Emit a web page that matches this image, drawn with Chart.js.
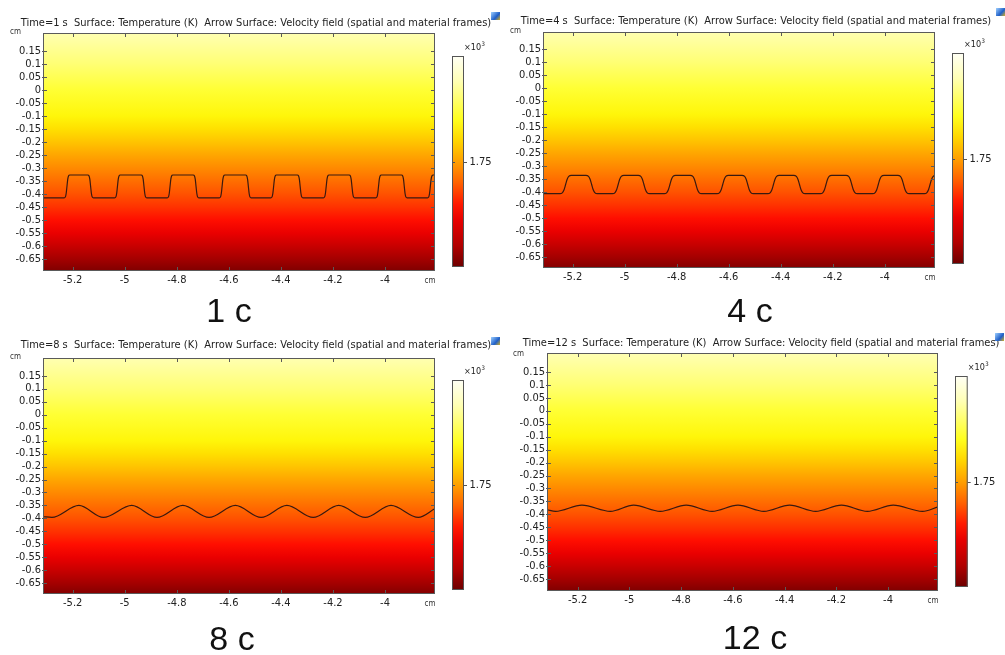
<!DOCTYPE html>
<html>
<head>
<meta charset="utf-8">
<script src="https://cdn.jsdelivr.net/npm/chart.js@4.4.1/dist/chart.umd.min.js"></script>
<style>
  html, body { margin: 0; padding: 0; background: #fff; width: 1005px; height: 655px; overflow: hidden; }
  canvas { position: absolute; }
</style>
</head>
<body>
<canvas id="c0"></canvas>
<canvas id="c1"></canvas>
<canvas id="c2"></canvas>
<canvas id="c3"></canvas>
<script>
// tick values (cm)
const xTicks = [-5.2, -5, -4.8, -4.6, -4.4, -4.2, -4];
const yTicks = [0.15, 0.1, 0.05, 0, -0.05, -0.1, -0.15, -0.2, -0.25, -0.3, -0.35, -0.4, -0.45, -0.5, -0.55, -0.6, -0.65];
const colorbarTicks = [1.75];
const times = ['1 s', '4 s', '8 s', '12 s'];
const captions = ['1 c', '4 c', '8 c', '12 c'];

// interface line at t = 1 s (square ridges with small rounded corners)
const front1X = [-5.314,
  -5.233, -5.228, -5.225, -5.222, -5.219, -5.216, -5.211,
  -5.142, -5.137, -5.134, -5.131, -5.128, -5.125, -5.120,
  -5.039, -5.034, -5.031, -5.028, -5.025, -5.022, -5.017,
  -4.937, -4.932, -4.929, -4.926, -4.923, -4.920, -4.915,
  -4.837, -4.832, -4.829, -4.826, -4.823, -4.820, -4.815,
  -4.737, -4.732, -4.729, -4.726, -4.723, -4.720, -4.715,
  -4.637, -4.632, -4.629, -4.626, -4.623, -4.620, -4.615,
  -4.536, -4.531, -4.528, -4.525, -4.522, -4.519, -4.514,
  -4.439, -4.434, -4.431, -4.428, -4.425, -4.422, -4.417,
  -4.337, -4.332, -4.329, -4.326, -4.323, -4.320, -4.315,
  -4.237, -4.232, -4.229, -4.226, -4.223, -4.220, -4.215,
  -4.138, -4.133, -4.130, -4.127, -4.124, -4.121, -4.116,
  -4.036, -4.031, -4.028, -4.025, -4.022, -4.019, -4.014,
  -3.937, -3.932, -3.929, -3.926, -3.923, -3.920, -3.915,
  -3.837, -3.832, -3.829, -3.826, -3.823, -3.820, -3.815,
  -3.806];
const front1Y = [-0.415,
  -0.415, -0.411, -0.398, -0.371, -0.344, -0.331, -0.327,
  -0.327, -0.331, -0.344, -0.371, -0.398, -0.411, -0.415,
  -0.415, -0.411, -0.398, -0.371, -0.344, -0.331, -0.327,
  -0.327, -0.331, -0.344, -0.371, -0.398, -0.411, -0.415,
  -0.415, -0.411, -0.398, -0.371, -0.344, -0.331, -0.327,
  -0.327, -0.331, -0.344, -0.371, -0.398, -0.411, -0.415,
  -0.415, -0.411, -0.398, -0.371, -0.344, -0.331, -0.327,
  -0.327, -0.331, -0.344, -0.371, -0.398, -0.411, -0.415,
  -0.415, -0.411, -0.398, -0.371, -0.344, -0.331, -0.327,
  -0.327, -0.331, -0.344, -0.371, -0.398, -0.411, -0.415,
  -0.415, -0.411, -0.398, -0.371, -0.344, -0.331, -0.327,
  -0.327, -0.331, -0.344, -0.371, -0.398, -0.411, -0.415,
  -0.415, -0.411, -0.398, -0.371, -0.344, -0.331, -0.327,
  -0.327, -0.331, -0.344, -0.371, -0.398, -0.411, -0.415,
  -0.415, -0.411, -0.398, -0.371, -0.344, -0.331, -0.327,
  -0.327];

// t = 4 s (ridges with rounder shoulders)
const front2X = [-5.314,
  -5.249, -5.239, -5.233, -5.227, -5.221, -5.215, -5.205,
  -5.149, -5.139, -5.133, -5.127, -5.121, -5.115, -5.105,
  -5.047, -5.037, -5.031, -5.025, -5.019, -5.013, -5.003,
  -4.948, -4.938, -4.932, -4.926, -4.920, -4.914, -4.904,
  -4.848, -4.838, -4.832, -4.826, -4.820, -4.814, -4.804,
  -4.748, -4.738, -4.732, -4.726, -4.720, -4.714, -4.704,
  -4.645, -4.635, -4.629, -4.623, -4.617, -4.611, -4.601,
  -4.549, -4.539, -4.533, -4.527, -4.521, -4.515, -4.505,
  -4.450, -4.440, -4.434, -4.428, -4.422, -4.416, -4.406,
  -4.350, -4.340, -4.334, -4.328, -4.322, -4.316, -4.306,
  -4.248, -4.238, -4.232, -4.226, -4.220, -4.214, -4.204,
  -4.149, -4.139, -4.133, -4.127, -4.121, -4.115, -4.105,
  -4.047, -4.037, -4.031, -4.025, -4.019, -4.013, -4.003,
  -3.950, -3.940, -3.934, -3.928, -3.922, -3.916, -3.906,
  -3.848, -3.838, -3.832, -3.826, -3.820, -3.814, -3.804];
const front2Y = [-0.405,
  -0.405, -0.401, -0.39, -0.37, -0.35, -0.339, -0.335,
  -0.335, -0.339, -0.35, -0.37, -0.39, -0.401, -0.405,
  -0.405, -0.401, -0.39, -0.37, -0.35, -0.339, -0.335,
  -0.335, -0.339, -0.35, -0.37, -0.39, -0.401, -0.405,
  -0.405, -0.401, -0.39, -0.37, -0.35, -0.339, -0.335,
  -0.335, -0.339, -0.35, -0.37, -0.39, -0.401, -0.405,
  -0.405, -0.401, -0.39, -0.37, -0.35, -0.339, -0.335,
  -0.335, -0.339, -0.35, -0.37, -0.39, -0.401, -0.405,
  -0.405, -0.401, -0.39, -0.37, -0.35, -0.339, -0.335,
  -0.335, -0.339, -0.35, -0.37, -0.39, -0.401, -0.405,
  -0.405, -0.401, -0.39, -0.37, -0.35, -0.339, -0.335,
  -0.335, -0.339, -0.35, -0.37, -0.39, -0.401, -0.405,
  -0.405, -0.401, -0.39, -0.37, -0.35, -0.339, -0.335,
  -0.335, -0.339, -0.35, -0.37, -0.39, -0.401, -0.405,
  -0.405, -0.401, -0.39, -0.37, -0.35, -0.339, -0.335];

// t = 8 s (waves), crests and troughs
const front3X = [-5.314, -5.28, -5.176, -5.082, -4.973, -4.876, -4.777, -4.676, -4.575, -4.476, -4.377, -4.276, -4.178, -4.076, -3.977, -3.872, -3.808];
const front3Y = [-0.393, -0.396, -0.35, -0.396, -0.35, -0.396, -0.35, -0.396, -0.35, -0.396, -0.35, -0.396, -0.35, -0.396, -0.35, -0.396, -0.362];

// t = 12 s (flatter waves)
const front4X = [-5.318, -5.285, -5.183, -5.073, -4.983, -4.88, -4.78, -4.68, -4.58, -4.48, -4.38, -4.28, -4.18, -4.08, -3.98, -3.867, -3.807];
const front4Y = [-0.382, -0.388, -0.364, -0.388, -0.364, -0.388, -0.364, -0.388, -0.364, -0.388, -0.364, -0.388, -0.364, -0.388, -0.364, -0.388, -0.371];

const fronts = [[front1X, front1Y], [front2X, front2Y], [front3X, front3Y], [front4X, front4Y]];

// panel placement (page px) and axis ranges
const layout = [
  { left: 0, top: 0, w: 500, h: 327, area: [43, 33, 435, 271], xr: [-5.314, -3.808], yr: [-0.696, 0.219],
    cb: [452, 56, 12, 211], title: [20.7, 26, 471], icon: [491, 12], cap: [229, 322], cm: [10, 34] },
  { left: 500, top: 0, w: 505, h: 327, area: [43, 32, 435, 268], xr: [-5.314, -3.807], yr: [-0.691, 0.2165],
    cb: [452, 53, 12, 211], title: [20.7, 24, 471], icon: [496, 8], cap: [250, 322], cm: [10, 33] },
  { left: 0, top: 327, w: 500, h: 328, area: [43, 31, 435, 267], xr: [-5.314, -3.808], yr: [-0.691, 0.218],
    cb: [452, 53, 12, 210], title: [20.7, 21.3, 471], icon: [491, 10], cap: [232, 323], cm: [10, 32] },
  { left: 500, top: 327, w: 505, h: 328, area: [47, 26, 438, 264], xr: [-5.318, -3.807], yr: [-0.695, 0.222],
    cb: [455, 49, 12.7, 211], title: [22.7, 19, 477], icon: [495, 6], cap: [255, 322], cm: [13, 29] }
];

const FONT = '"DejaVu Sans Condensed", "DejaVu Sans", sans-serif';

// temperature colouring of the domain, by height (cm)
const fieldStops = [
  [0.23, '#ffffb8'], [0.1, '#ffff74'], [0.0, '#ffff34'], [-0.1, '#fff60a'], [-0.15, '#ffe000'],
  [-0.2, '#ffc400'], [-0.25, '#ffa600'], [-0.3, '#ff8a00'], [-0.35, '#ff6e00'], [-0.4, '#ff5200'],
  [-0.45, '#ff3200'], [-0.5, '#ff0e00'], [-0.55, '#ea0000'], [-0.6, '#c80000'], [-0.65, '#a40000'], [-0.7, '#7c0000']
];
const barStops = [
  [0, '#fffff6'], [0.12, '#ffffb4'], [0.3, '#ffff1e'], [0.4, '#ffd600'], [0.5, '#ffa000'],
  [0.6, '#ff6200'], [0.7, '#ff1a00'], [0.78, '#e60000'], [0.9, '#b00000'], [1, '#6c0000']
];

const fmt = v => String(parseFloat(Number(v).toFixed(2)));

const fieldPlugin = {
  id: 'field',
  beforeDatasetsDraw(chart) {
    const { ctx, chartArea: a, scales: { y } } = chart;
    const top = fieldStops[0][0], bot = fieldStops[fieldStops.length - 1][0];
    const g = ctx.createLinearGradient(0, y.getPixelForValue(top), 0, y.getPixelForValue(bot));
    fieldStops.forEach(([v, c]) => g.addColorStop((top - v) / (top - bot), c));
    ctx.save();
    ctx.fillStyle = g;
    ctx.fillRect(a.left, a.top, a.right - a.left, a.bottom - a.top);
    ctx.restore();
  }
};

const decoPlugin = {
  id: 'deco',
  afterDraw(chart) {
    const p = chart.options.plugins.deco;
    const { ctx, chartArea: a, scales: { x, y } } = chart;
    ctx.save();
    // frame + inward ticks
    ctx.strokeStyle = '#5a5a5a';
    ctx.lineWidth = 1;
    ctx.strokeRect(a.left + 0.5, a.top + 0.5, a.right - a.left - 1, a.bottom - a.top - 1);
    ctx.beginPath();
    xTicks.forEach(v => {
      const px = Math.round(x.getPixelForValue(v)) + 0.5;
      ctx.moveTo(px, a.top); ctx.lineTo(px, a.top + 4);
      ctx.moveTo(px, a.bottom); ctx.lineTo(px, a.bottom - 4);
    });
    yTicks.forEach(v => {
      const py = Math.round(y.getPixelForValue(v)) + 0.5;
      ctx.moveTo(a.left - 1, py); ctx.lineTo(a.left + 4, py);
      ctx.moveTo(a.right, py); ctx.lineTo(a.right - 4, py);
    });
    ctx.stroke();

    // title
    ctx.fillStyle = '#222';
    ctx.font = '11px ' + FONT;
    ctx.textAlign = 'left';
    ctx.textBaseline = 'alphabetic';
    const t = 'Time=' + times[p.i] + '  Surface: Temperature (K)  Arrow Surface: Velocity field (spatial and material frames)';
    ctx.fillText(t, p.title[0], p.title[1], p.title[2]);

    // small icon at the end of the title
    const ig = ctx.createLinearGradient(p.icon[0], p.icon[1], p.icon[0] + 9, p.icon[1] + 8);
    ig.addColorStop(0, '#9fd0ff'); ig.addColorStop(0.6, '#1f5fc8'); ig.addColorStop(1, '#d9b020');
    ctx.fillStyle = ig;
    ctx.fillRect(p.icon[0], p.icon[1], 9, 8);

    // unit labels
    ctx.fillStyle = '#333';
    ctx.font = '8px ' + FONT;
    ctx.fillText('cm', p.cm[0], p.cm[1]);
    ctx.textAlign = 'center';
    ctx.textBaseline = 'middle';
    ctx.fillText('cm', a.right - 5, a.bottom + 10);

    // colour legend
    const [cx, cy, cw, ch] = p.cb;
    const bg = ctx.createLinearGradient(0, cy, 0, cy + ch);
    barStops.forEach(([f, c]) => bg.addColorStop(f, c));
    ctx.fillStyle = bg;
    ctx.fillRect(cx, cy, cw, ch);
    ctx.strokeStyle = '#555';
    ctx.strokeRect(cx + 0.5, cy + 0.5, cw - 1, ch - 1);
    const tickY = Math.round(cy + ch / 2) + 0.5;
    ctx.beginPath();
    ctx.moveTo(cx, tickY); ctx.lineTo(cx + 3, tickY);
    ctx.moveTo(cx + cw, tickY); ctx.lineTo(cx + cw + 3, tickY);
    ctx.stroke();
    ctx.fillStyle = '#222';
    ctx.font = '11px ' + FONT;
    ctx.textAlign = 'left';
    ctx.fillText(colorbarTicks[0].toFixed(2), cx + cw + 5.5, tickY);
    ctx.font = '9px ' + FONT;
    ctx.textBaseline = 'alphabetic';
    ctx.fillText('\u00d710', cx + cw, cy - 6);
    const w10 = ctx.measureText('\u00d710').width;
    ctx.font = '6px ' + FONT;
    ctx.fillText('3', cx + cw + w10 + 0.5, cy - 10);

    // caption
    ctx.fillStyle = '#111';
    ctx.font = '34px "Liberation Sans"';
    ctx.textAlign = 'center';
    ctx.fillText(captions[p.i], p.cap[0], p.cap[1]);
    ctx.restore();
  }
};

function makePanel(i) {
  const p = layout[i];
  const cv = document.getElementById('c' + i);
  cv.width = p.w;
  cv.height = p.h;
  cv.style.left = p.left + 'px';
  cv.style.top = p.top + 'px';
  const yW = 40, xH = 20;
  const [fx, fy] = fronts[i];
  new Chart(cv, {
    type: 'line',
    data: {
      datasets: [{
        data: fx.map((v, k) => ({ x: v, y: fy[k] })),
        borderColor: '#3a1a10',
        borderWidth: 1.2,
        pointRadius: 0,
        cubicInterpolationMode: 'monotone',
        fill: false
      }]
    },
    options: {
      responsive: false,
      animation: false,
      devicePixelRatio: 1,
      layout: { padding: { left: p.area[0] - yW, top: p.area[1], right: p.w - p.area[2], bottom: p.h - p.area[3] - xH } },
      plugins: {
        legend: { display: false },
        tooltip: { enabled: false },
        deco: Object.assign({ i }, p)
      },
      scales: {
        x: {
          type: 'linear', min: p.xr[0], max: p.xr[1],
          grid: { display: false, drawTicks: false },
          border: { display: false },
          afterBuildTicks: s => { s.ticks = xTicks.map(v => ({ value: v })); },
          afterFit: s => { s.height = xH; },
          ticks: { padding: 3, autoSkip: false, maxRotation: 0, color: '#222', font: { family: FONT, size: 11 }, callback: v => fmt(v) }
        },
        y: {
          type: 'linear', min: p.yr[0], max: p.yr[1],
          grid: { display: false, drawTicks: false },
          border: { display: false },
          afterBuildTicks: s => { s.ticks = yTicks.slice().reverse().map(v => ({ value: v })); },
          afterFit: s => { s.width = yW; },
          ticks: { padding: 2, autoSkip: false, color: '#222', font: { family: FONT, size: 11 }, callback: v => fmt(v) }
        }
      }
    },
    plugins: [fieldPlugin, decoPlugin]
  });
}

[0, 1, 2, 3].forEach(makePanel);
</script>
</body>
</html>
